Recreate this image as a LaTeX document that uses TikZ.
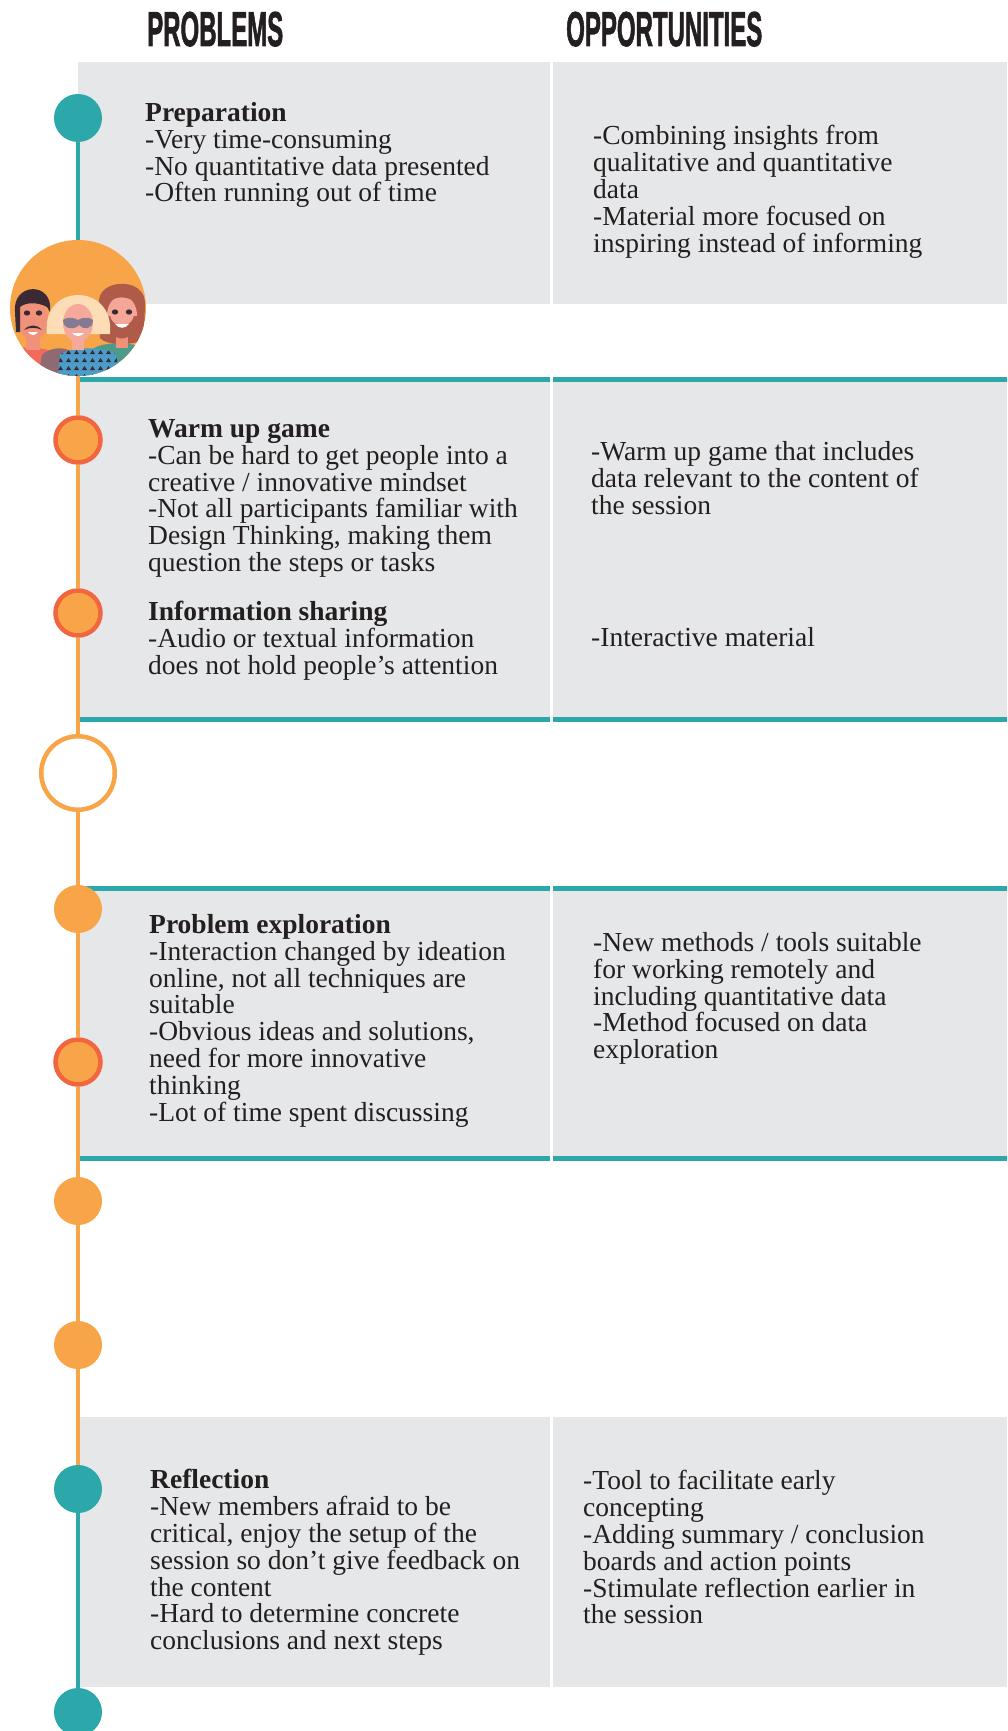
\documentclass[tikz,border=0pt]{standalone}
\usepackage{fontspec}
\setmainfont{Liberation Serif}
\newfontfamily\titulo{Liberation Sans}
\usepackage{graphicx}
\usepackage{xcolor}

\definecolor{verdeazul}{HTML}{2DA8AA}
\definecolor{naranja}{HTML}{F8A54A}
\definecolor{rojizo}{HTML}{F1653F}
\definecolor{gris}{HTML}{E6E7E8}
\definecolor{tinta}{HTML}{231F20}
\definecolor{coral}{HTML}{F26A5B}
\definecolor{malva}{HTML}{8E6A72}
\definecolor{azulcam}{HTML}{4B9CC9}
\definecolor{verdecam}{HTML}{4D9A8A}
\definecolor{pelooscuro}{HTML}{3B2A35}
\definecolor{pelorubio}{HTML}{FCDDB5}
\definecolor{pelorojo}{HTML}{B05A4A}
\definecolor{piel}{HTML}{F0917A}
\definecolor{pielrosa}{HTML}{F4A99A}
\definecolor{gafas}{HTML}{857A94}

\tikzset{
  panel/.style={fill=gris},
  regla/.style={fill=verdeazul},
  linea/.style={line width=4.6pt},
  % el punto dado es la linea base de la primera linea
  texto/.style={anchor=north west, align=left, inner sep=0pt, text=tinta,
    font=\fontsize{27.5}{26.8}\selectfont, yshift=18.76pt,
    execute at begin node=\strut},
  cabecera/.style={anchor=base west, inner sep=0pt, text=tinta,
    font=\titulo\bfseries\addfontfeature{FakeBold=2}\fontsize{49}{49}\selectfont},
  punto/.style={circle, inner sep=0pt, minimum size=48pt, fill=naranja},
  puntoazul/.style={punto, fill=verdeazul},
  puntoaro/.style={circle, inner sep=0pt, minimum size=45pt, fill=naranja,
    draw=rojizo, line width=4.5pt},
  hueco/.style={circle, inner sep=0pt, minimum size=73.5pt, fill=white,
    draw=naranja, line width=4.5pt},
}

\begin{document}
\begin{tikzpicture}[x=1pt, y=-1pt]
  \useasboundingbox[fill=white] (0,0) rectangle (1007,1731);

  % Encabezados
  \node[cabecera] (hproblemas) at (147,46) {\scalebox{0.49}[1]{PROBLEMS}};
  \node[cabecera] (hopciones) at (566,46) {\scalebox{0.49}[1]{OPPORTUNITIES}};

  % Paneles grises (izquierda / derecha)
  \foreach \ya/\yb in {62/304, 377/722, 886/1161, 1417/1687} {
    \fill[panel] (78,\ya) rectangle (549.5,\yb);
    \fill[panel] (552.5,\ya) rectangle (1007,\yb);
  }

  % Reglas verdes arriba y abajo
  \foreach \ya in {377, 717, 886, 1156} {
    \fill[regla] (78,\ya) rectangle (549.5,\ya+5);
    \fill[regla] (552.5,\ya) rectangle (1007,\ya+5);
  }

  % Puntos de la linea de tiempo
  \node[puntoazul] (p1) at (78,118) {};
  \node[circle, inner sep=0pt, minimum size=136pt, fill=naranja] (grupo) at (78,308) {};
  \node[puntoaro] (p2) at (78,440) {};
  \node[puntoaro] (p3) at (78,613) {};
  \node[hueco] (p4) at (78,773) {};
  \node[punto] (p5) at (78,909) {};
  \node[puntoaro] (p6) at (78,1062) {};
  \node[punto] (p7) at (78,1201) {};
  \node[punto] (p8) at (78,1345) {};
  \node[puntoazul] (p9) at (78,1489) {};
  \node[puntoazul] (p10) at (78,1712) {};

  % Tramos de la linea
  \draw[linea, verdeazul] (p1) -- (grupo);
  \draw[linea, naranja] (grupo) -- (p2);
  \foreach \a/\b in {p2/p3, p3/p4, p4/p5, p5/p6, p6/p7, p7/p8, p8/p9}
    \draw[linea, naranja] (\a) -- (\b);
  \draw[linea, verdeazul] (p9) -- (p10);

  % Grupo de personas dentro del circulo
  \begin{scope}
    \clip (78,308) circle (68);
    \begin{scope}[shift={(78,308)}]
      % hombre de la derecha
      \fill[verdecam] (8,80) -- (14,42) .. controls (22,33) and (58,33) .. (68,42) -- (80,80) -- cycle;
      \fill[pelorojo] (21,-4) .. controls (18,-30) and (68,-32) .. (67,-4) -- (66,30) .. controls (60,38) and (28,38) .. (22,30) -- cycle;
      \fill[piel] (38,24) rectangle (50,40);
      \fill[pielrosa!90!piel] (44,7) ellipse (15 and 19);
      \fill[pelorojo] (29,8) .. controls (29,38) and (59,38) .. (59,8) -- (56,8) .. controls (53,21) and (35,21) .. (32,8) -- cycle;
      \fill[pelorojo] (28,-4) .. controls (31,-24) and (59,-24) .. (61,-3) .. controls (50,-13) and (38,-13) .. cycle;
      \fill[white] (37,16) .. controls (41,21) and (47,21) .. (51,16) -- cycle;
      \fill[pelooscuro] (37,4) ellipse (3.2 and 2.6);
      \fill[pelooscuro] (51,4) ellipse (3.2 and 2.6);
      % hombre de la izquierda
      \fill[coral] (-88,80) -- (-80,47) .. controls (-72,37) and (-30,37) .. (-20,47) -- (-12,80) -- cycle;
      \fill[piel] (-52,24) rectangle (-38,42);
      \fill[piel] (-45,12) ellipse (15.5 and 20);
      \fill[pelooscuro] (-62,24) -- (-63,4) .. controls (-66,-26) and (-24,-27) .. (-28,4) -- (-31,-1) .. controls (-40,-6) and (-52,-6) .. (-58,-1) -- (-58,24) -- cycle;
      \fill[pelooscuro] (-54,22) .. controls (-49,16) and (-41,16) .. (-36,22) .. controls (-42,19) and (-48,19) .. cycle;
      \fill[white] (-50,24) .. controls (-47,28) and (-43,28) .. (-40,24) -- cycle;
      \fill[pelooscuro] (-51,5) ellipse (3.2 and 2.6);
      \fill[pelooscuro] (-39,5) ellipse (3.2 and 2.6);
      % mujer del centro
      \fill[malva] (-42,80) -- (-36,47) .. controls (-28,39) and (-14,39) .. (-8,43) -- (-4,80) -- cycle;
      \begin{scope}
        \clip (-22,80) -- (-18,47) .. controls (-10,38) and (30,38) .. (38,47) -- (44,80) -- cycle;
        \fill[azulcam] (-30,30) rectangle (50,80);
        \foreach \i in {-20,-12,...,44}
          \foreach \j in {46,54,...,78}
            \fill[pelooscuro] (\i,\j) -- (\i+2.5,\j-4) -- (\i+5,\j) -- cycle;
      \end{scope}
      \fill[pelorubio] (-31,26) .. controls (-37,-26) and (37,-26) .. (32,26) -- cycle;
      \fill[pielrosa] (-6,26) rectangle (6,42);
      \fill[pielrosa] (0,15) ellipse (15 and 19);
      \fill[pelorubio] (-17,4) .. controls (-19,-18) and (19,-18) .. (17,4) .. controls (10,-4) and (4,-6) .. (1,-4) .. controls (-4,-6) and (-10,-4) .. cycle;
      \fill[gafas] (-15,12) .. controls (-12,9) and (-4,9) .. (0,12) .. controls (4,9) and (12,9) .. (15,12) .. controls (15,22) and (5,22) .. (1,17) .. controls (-3,22) and (-15,22) .. cycle;
      \fill[white] (-6,25) .. controls (-3,29) and (3,29) .. (6,25) -- cycle;
    \end{scope}
  \end{scope}

  % Textos: problemas
  \node[texto] (prep) at (145,121) {\textbf{Preparation}\\
    -Very time-consuming\\
    -No quantitative data presented\\
    -Often running out of time};
  \node[texto] (warm) at (148,438) {\textbf{Warm up game}\\
    -Can be hard to get people into a\\
    creative / innovative mindset\\
    -Not all participants familiar with\\
    Design Thinking, making them\\
    question the steps or tasks};
  \node[texto] (info) at (148,620) {\textbf{Information sharing}\\
    -Audio or textual information\\
    does not hold people’s attention};
  \node[texto] (explor) at (149,933) {\textbf{Problem exploration}\\
    -Interaction changed by ideation\\
    online, not all techniques are\\
    suitable\\
    -Obvious ideas and solutions,\\
    need for more innovative\\
    thinking\\
    -Lot of time spent discussing};
  \node[texto] (refl) at (150,1488) {\textbf{Reflection}\\
    -New members afraid to be\\
    critical, enjoy the setup of the\\
    session so don’t give feedback on\\
    the content\\
    -Hard to determine concrete\\
    conclusions and next steps};

  % Textos: oportunidades
  \node[texto] (oprep) at (593,144) {-Combining insights from\\
    qualitative and quantitative\\
    data\\
    -Material more focused on\\
    inspiring instead of informing};
  \node[texto] (owarm) at (591,460) {-Warm up game that includes\\
    data relevant to the content of\\
    the session};
  \node[texto] (oinfo) at (591,646) {-Interactive material};
  \node[texto] (oexplor) at (593,951) {-New methods / tools suitable\\
    for working remotely and\\
    including quantitative data\\
    -Method focused on data\\
    exploration};
  \node[texto] (orefl) at (583,1489) {-Tool to facilitate early\\
    concepting\\
    -Adding summary / conclusion\\
    boards and action points\\
    -Stimulate reflection earlier in\\
    the session};
\end{tikzpicture}
\end{document}
